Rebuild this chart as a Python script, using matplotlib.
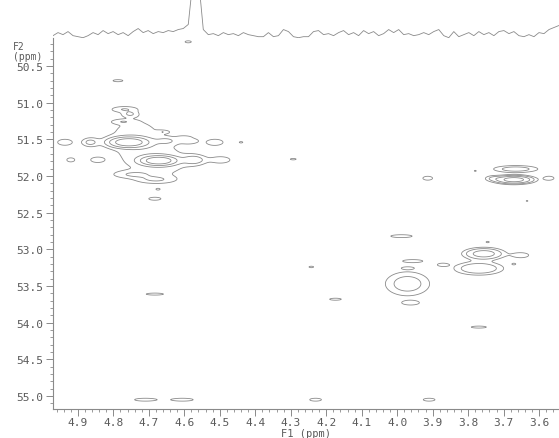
import numpy as np
import matplotlib
matplotlib.use("Agg")
import matplotlib.pyplot as plt
from matplotlib.ticker import MultipleLocator, FormatStrFormatter

# --- 2D cross peaks: F1 shift, F2 shift, height, F1 width, F2 width (ppm) ---
pk_f1 = [4.757, 4.672, 4.739, 4.665,
         4.866, 4.937, 4.649, 4.584, 4.513, 4.44,
         4.572, 4.496, 4.846, 4.92, 4.77, 4.753, 4.773,
         4.787, 4.589, 4.747, 4.68, 4.683, 4.674, 4.66, 4.60,
         3.666, 3.671, 3.73, 3.572, 3.914, 3.78, 3.634,
         3.971, 3.956, 3.97, 3.988, 3.962, 3.872, 3.756, 3.77,
         3.651, 3.671, 3.745, 3.77,
         4.293, 4.242, 4.174, 4.683,
         4.71, 4.605, 4.23, 3.91]
pk_f2 = [51.54, 51.79, 51.45, 51.82,
         51.54, 51.54, 51.52, 51.52, 51.54, 51.54,
         51.78, 51.78, 51.78, 51.78, 51.09, 51.155, 51.26,
         50.70, 50.17, 51.98, 52.05, 52.31, 52.18, 51.40, 51.47,
         51.905, 52.05, 52.03, 52.03, 52.03, 51.93, 52.34,
         53.47, 53.16, 53.255, 52.82, 53.73, 53.21, 53.06, 53.26,
         53.08, 53.20, 52.90, 54.06,
         51.77, 53.24, 53.68, 53.61,
         55.05, 55.05, 55.05, 55.05]
pk_amp = [14.0, 14.0, 1.3, 1.3,
          2.2, 1.6, 1.5, 1.6, 1.6, 1.2,
          2.5, 1.6, 1.5, 1.6, 1.6, 1.6, 1.2,
          1.6, 1.6, 1.6, 1.6, 1.6, 1.3, 1.2, 1.2,
          3.0, 12.0, 1.6, 1.6, 1.6, 1.2, 1.2,
          3.0, 1.6, 1.4, 1.6, 1.6, 1.6, 6.0, 4.0,
          1.6, 1.3, 1.3, 1.6,
          1.4, 1.4, 1.6, 1.6,
          1.6, 1.6, 1.6, 1.6]
pk_w1 = [0.031, 0.028, 0.075, 0.075,
         0.016, 0.020, 0.022, 0.018, 0.022, 0.008,
         0.022, 0.024, 0.016, 0.011, 0.025, 0.014, 0.020,
         0.014, 0.009, 0.040, 0.038, 0.017, 0.006, 0.012, 0.014,
         0.042, 0.030, 0.017, 0.014, 0.014, 0.004, 0.004,
         0.042, 0.028, 0.014, 0.031, 0.022, 0.014, 0.033, 0.042,
         0.022, 0.006, 0.006, 0.022,
         0.010, 0.008, 0.017, 0.025,
         0.031, 0.031, 0.017, 0.017]
pk_w2 = [0.040, 0.036, 0.26, 0.18,
         0.040, 0.040, 0.036, 0.030, 0.040, 0.015,
         0.045, 0.040, 0.030, 0.027, 0.027, 0.027, 0.020,
         0.014, 0.014, 0.036, 0.036, 0.020, 0.012, 0.015, 0.015,
         0.032, 0.031, 0.027, 0.027, 0.027, 0.010, 0.010,
         0.110, 0.020, 0.014, 0.020, 0.027, 0.020, 0.047, 0.055,
         0.034, 0.012, 0.012, 0.014,
         0.012, 0.012, 0.014, 0.014,
         0.020, 0.020, 0.020, 0.020]

# --- F1 projection (intensity along the top trace) ---
trace_int = [2, 5, 3, 6, 2, 1, 0, 2, 5, 3, 7, 4, 6, 3, 5, 2, 6, 9, 5, 7,
             4, 6, 5, 7, 6, 8, 9, 13, 60, 60, 8, 3, 4, 2, 5, 3, 4, 2, 5, 3,
             2, 1, 1, 5, 1, 2, 8, 6, 1, 0, 1, 1, 6, 7, 3, 4, 2, 5, 7, 3,
             5, 2, 7, 4, 6, 2, 4, 8, 5, 8, 3, 4, 2, 3, 5, 3, 6, 8, 2, 0,
             6, 1, 3, 5, 2, 6, 3, 5, 2, 6, 7, 4, 6, 2, 1, 3, 1, 5, 4, 8,
             10, 12]
trace_start, trace_end = 4.970, 3.544

contour_levels = [1, 2, 4, 8, 16]

x_ticks_major, x_ticks_minor = 0.1, 0.02
y_ticks_major, y_ticks_minor = 0.5, 0.1

W, H = 559, 439
fig = plt.figure(figsize=(W / 100, H / 100), dpi=100)
mono = "DejaVu Sans Mono"
grey_line = "#8a8a8a"
grey_text = "#5a5a5a"

# main 2D panel
left_px, right_px, top_px, bot_px = 53, 559, 39, 410
ax = fig.add_axes([left_px / W, 1 - bot_px / H,
                   (right_px - left_px) / W, (bot_px - top_px) / H])

f1 = np.linspace(3.50, 5.00, 1000)
f2 = np.linspace(50.05, 55.25, 1000)
F1, F2 = np.meshgrid(f1, f2)
Z = np.zeros_like(F1)
for c1, c2, a, w1, w2 in zip(pk_f1, pk_f2, pk_amp, pk_w1, pk_w2):
    Z += a * np.exp(-0.5 * (((F1 - c1) / w1) ** 2 + ((F2 - c2) / w2) ** 2))

ax.contour(F1, F2, Z, levels=contour_levels, colors=grey_line, linewidths=0.6)

ax.set_xlim(4.970, 3.544)
ax.set_ylim(55.177, 50.118)
ax.xaxis.set_major_locator(MultipleLocator(x_ticks_major))
ax.xaxis.set_minor_locator(MultipleLocator(x_ticks_minor))
ax.yaxis.set_major_locator(MultipleLocator(y_ticks_major))
ax.yaxis.set_minor_locator(MultipleLocator(y_ticks_minor))
ax.xaxis.set_major_formatter(FormatStrFormatter("%.1f"))
ax.yaxis.set_major_formatter(FormatStrFormatter("%.1f"))
for s in ("top", "right"):
    ax.spines[s].set_visible(False)
for s in ("left", "bottom"):
    ax.spines[s].set_color(grey_line)
    ax.spines[s].set_linewidth(0.8)
ax.tick_params(which="major", direction="out", length=5, width=0.7,
               color=grey_line, labelcolor=grey_text, labelsize=8, pad=2)
ax.tick_params(axis="x", which="major", pad=1)
ax.tick_params(which="minor", direction="out", length=2.5, width=0.6,
               color=grey_line)
for lab in ax.get_xticklabels() + ax.get_yticklabels():
    lab.set_fontfamily(mono)

# F1 projection above the 2D panel
axt = fig.add_axes([left_px / W, 1 - top_px / H,
                    (right_px - left_px) / W, top_px / H])
trace_ppm = np.linspace(trace_start, trace_end, len(trace_int))
axt.plot(trace_ppm, trace_int, color=grey_line, lw=0.6, clip_on=True)
axt.set_xlim(4.970, 3.544)
axt.set_ylim(-0.3, 38)
axt.axis("off")

# axis titles
fig.text(13 / W, 1 - 47 / H, "F2", family=mono, fontsize=7,
         color=grey_text, va="center", ha="left")
fig.text(13 / W, 1 - 57 / H, "(ppm)", family=mono, fontsize=7,
         color=grey_text, va="center", ha="left")
fig.text(306 / W, 1 - 434.5 / H, "F1 (ppm)", family=mono, fontsize=7.5,
         color=grey_text, va="center", ha="center")

fig.savefig("out.png", dpi=100, facecolor="white")
